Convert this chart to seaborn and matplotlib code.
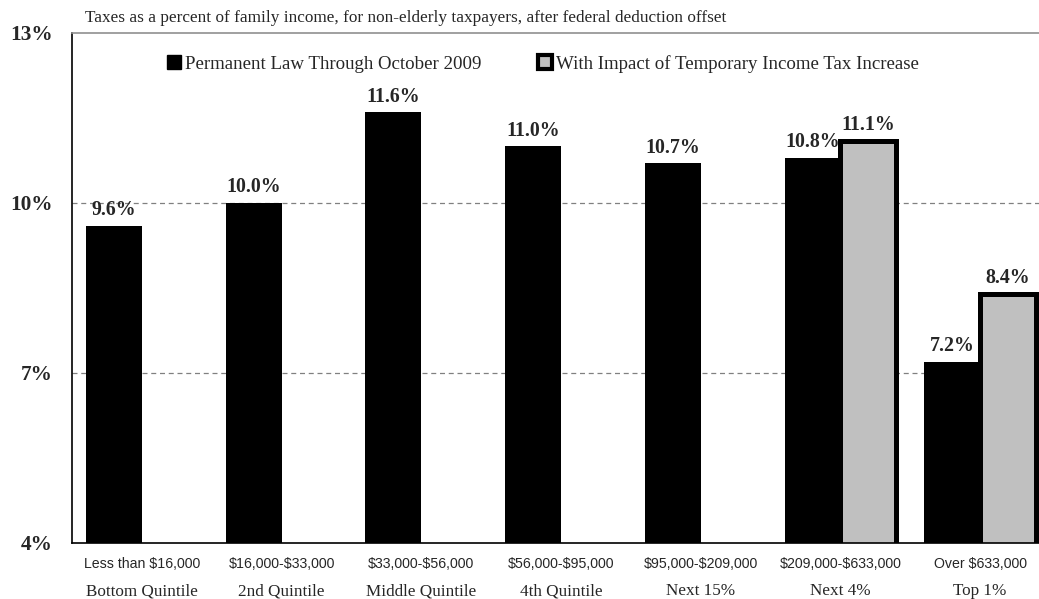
import seaborn as sns
import matplotlib
matplotlib.use('Agg')
import matplotlib.pyplot as plt
from matplotlib.patches import Patch
import pandas as pd
import numpy as np

# data
income_ranges = ['Less than $16,000', '$16,000-$33,000', '$33,000-$56,000', '$56,000-$95,000',
                 '$95,000-$209,000', '$209,000-$633,000', 'Over $633,000']
groups = ['Bottom Quintile', '2nd Quintile', 'Middle Quintile', '4th Quintile',
          'Next 15%', 'Next 4%', 'Top 1%']
permanent = [9.6, 10.0, 11.6, 11.0, 10.7, 10.8, 7.2]
temporary = [np.nan, np.nan, np.nan, np.nan, np.nan, 11.1, 8.4]
series = ['Permanent Law Through October 2009', 'With Impact of Temporary Income Tax Increase']

df = pd.DataFrame({
    'group': groups * 2,
    'series': [series[0]] * len(groups) + [series[1]] * len(groups),
    'value': permanent + temporary,
})

sns.set_style('white')
plt.rcParams['font.family'] = ['Liberation Serif', 'DejaVu Serif']
plt.rcParams['text.parse_math'] = False  # dollar signs are plain text here

fig = plt.figure(figsize=(10.39, 5.99), dpi=100)
# axes run a bit past the right edge of the picture, like the original
ax = fig.add_axes([72 / 1039, 56 / 599, (1050 - 72) / 1039, (543 - 33) / 599])

sns.barplot(data=df, x='group', y='value', hue='series', order=groups, hue_order=series,
            palette=['black', '#c0c0c0'], width=0.8, ax=ax, legend=False, saturation=1)

for bar in ax.containers[0]:
    bar.set_edgecolor('black')
    bar.set_linewidth(0)
for bar in ax.containers[1]:
    bar.set_edgecolor('black')
    bar.set_linewidth(3.6)

ax.set_ylim(4, 13)
ax.set_xlim(-0.5, 6.5)
ax.set_yticks([4, 7, 10, 13])
ax.set_yticklabels(['4%', '7%', '10%', '13%'], fontsize=15.3, fontweight='bold')
ax.tick_params(axis='y', length=0, pad=14)
ax.tick_params(axis='x', length=0, pad=6)
ax.set_xticks(range(len(groups)))
ax.set_xticklabels([''] * len(groups))
for i, (r, g) in enumerate(zip(income_ranges, groups)):
    ax.text(i, 3.63, r, ha='center', va='center', fontsize=10.2, family='Liberation Sans')
    ax.text(i, 3.15, g, ha='center', va='center', fontsize=12.3)
ax.set_xlabel('')
ax.set_ylabel('')

for y in [7, 10]:
    ax.axhline(y, color='#808080', linestyle=(0, (4, 3)), linewidth=0.9, zorder=0)

for s in ['left', 'bottom']:
    ax.spines[s].set_color('black')
    ax.spines[s].set_linewidth(1.2)
ax.spines['top'].set_color('#909090')
ax.spines['top'].set_linewidth(1.2)
ax.spines['right'].set_visible(False)

# value labels
for cont in ax.containers:
    labels = ['' if np.isnan(v) else f'{v:.1f}%' for v in cont.datavalues]
    ax.bar_label(cont, labels=labels, padding=4, fontsize=14.3, fontweight='bold')

handles = [Patch(facecolor='black', edgecolor='black'),
           Patch(facecolor='#c0c0c0', edgecolor='black', linewidth=3)]
ax.legend(handles, series, loc='upper left', bbox_to_anchor=(0.080, 0.99), ncol=2,
          frameon=False, fontsize=13.6, handlelength=0.75, handleheight=0.75,
          handletextpad=0.2, columnspacing=3.0)

fig.text(85 / 1039, 1 - 18 / 599, 'Taxes as a percent of family income, for non-elderly taxpayers, after federal deduction offset',
         fontsize=12.4, va='center', ha='left')

fig.savefig('out.png', dpi=100)
